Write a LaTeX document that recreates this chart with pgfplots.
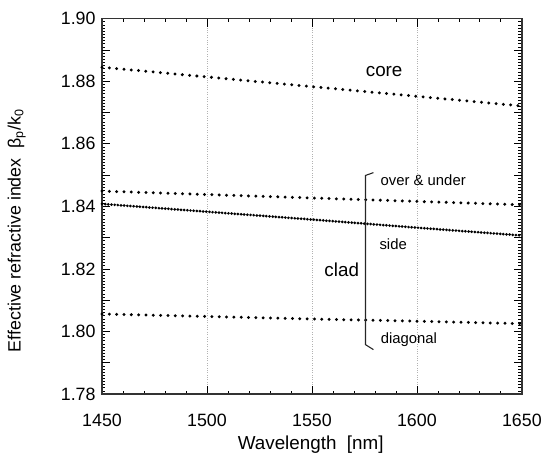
\documentclass[border=0pt]{standalone}
\usepackage{pgfplots}
\pgfplotsset{compat=1.18}
\usepackage{fontspec}
\setmainfont{Liberation Sans}

\begin{document}
\begin{tikzpicture}
\begin{axis}[
    scale only axis,
    width=424pt, height=379pt,
    xmin=1450, xmax=1650,
    ymin=1.78, ymax=1.90,
    xtick={1450,1500,...,1650},
    minor x tick num=4,
    ytick={1.78,1.80,...,1.90},
    minor y tick num=19,
    extra y ticks={1.79,1.81,1.83,1.85,1.87,1.89},
    extra y tick labels={},
    extra y tick style={grid=none},
    tick align=inside,
    major tick length=8pt,
    minor tick length=3.5pt,
    every tick/.style={black, line width=0.8pt},
    axis line style={line width=1.3pt, black!80},
    xmajorgrids,
    grid style={gray!60, dotted, line width=0.7pt},
    tick label style={font=\fontsize{18}{20}\selectfont},
    /pgf/number format/assume math mode=true,
    xticklabel style={/pgf/number format/1000 sep={}, yshift=-17pt},
    yticklabel style={xshift=-3pt, /pgf/number format/fixed, /pgf/number format/fixed zerofill, /pgf/number format/precision=2},
    xlabel={Wavelength\ \ [nm]},
    ylabel={Effective refractive index\ \ β\textsubscript{p}/k\textsubscript{0}},
    xlabel style={font=\fontsize{19}{22}\selectfont, at={(rel axis cs:0.497,-0.135)}, anchor=center},
    ylabel style={font=\fontsize{18}{21}\selectfont, at={(rel axis cs:-0.203,0.435)}, anchor=center},
    clip=false,
]
% fixed canvas matching the reference margins
\path (rel axis cs:-0.243,-0.174) rectangle (rel axis cs:1.048,1.050);

% core
\addplot[black, line width=3.3pt, line cap=round, dash pattern=on 0pt off 7.4pt] coordinates {
    (1450,1.8845) (1500,1.8814) (1550,1.8783) (1600,1.8752) (1650,1.8721)
};
% over & under
\addplot[black, line width=3.3pt, line cap=round, dash pattern=on 0pt off 7.4pt] coordinates {
    (1450,1.8449) (1500,1.8438) (1550,1.8427) (1600,1.8416) (1650,1.8405)
};
% side
\addplot[black, line width=3pt, line cap=round, dash pattern=on 0pt off 3.2pt] coordinates {
    (1450,1.8408) (1500,1.8383) (1550,1.8358) (1600,1.8332) (1650,1.8307)
};
% diagonal
\addplot[black, line width=3.3pt, line cap=round, dash pattern=on 0pt off 7.4pt] coordinates {
    (1450,1.8056) (1500,1.8048) (1550,1.8040) (1600,1.8033) (1650,1.8025)
};

% bracket
\draw[line width=1.1pt, black!85] (axis cs:1579.3,1.8508) -- (axis cs:1575.5,1.8499)
    -- (axis cs:1575.5,1.7958) -- (axis cs:1579.3,1.7942);

\node[font=\fontsize{19}{22}\selectfont] at (axis cs:1584.4,1.8832) {core};
\node[font=\fontsize{15}{18}\selectfont] at (axis cs:1603,1.8484) {over \& under};
\node[font=\fontsize{15}{18}\selectfont] at (axis cs:1588.7,1.8278) {side};
\node[font=\fontsize{19}{22}\selectfont] at (axis cs:1564.2,1.8196) {clad};
\node[font=\fontsize{15}{18}\selectfont] at (axis cs:1596.2,1.7974) {diagonal};
\end{axis}
\end{tikzpicture}
\end{document}
